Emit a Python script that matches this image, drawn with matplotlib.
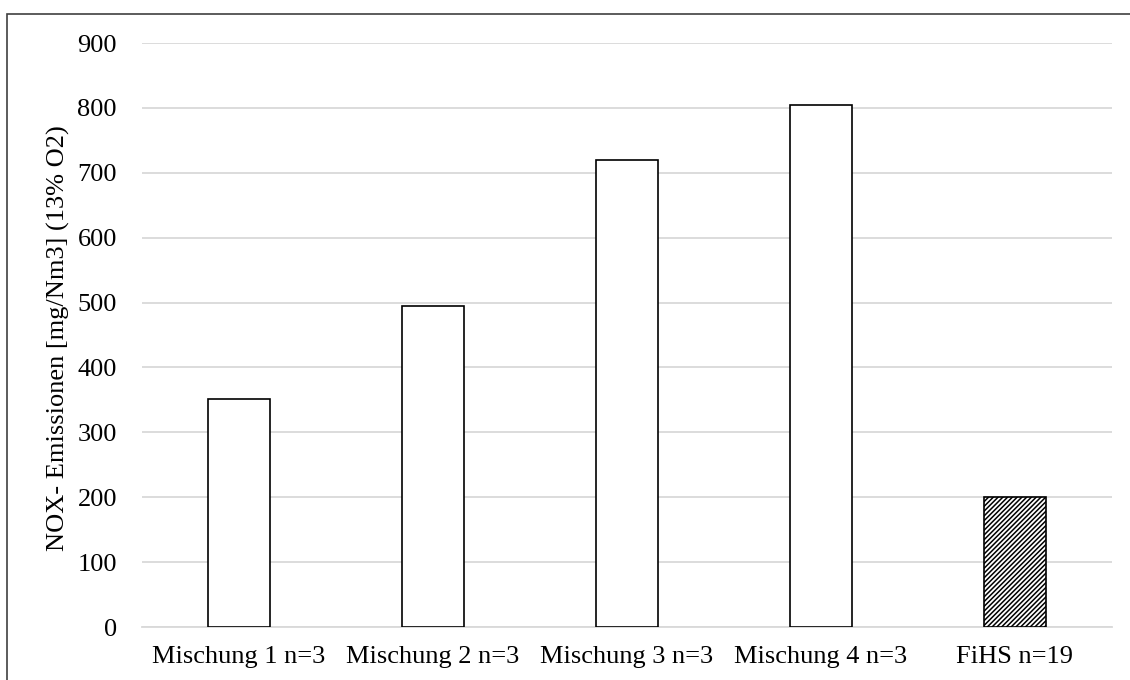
import matplotlib
matplotlib.use("Agg")
import matplotlib.pyplot as plt
from matplotlib.patches import Rectangle

categories = ["Mischung 1 n=3", "Mischung 2 n=3", "Mischung 3 n=3", "Mischung 4 n=3", "FiHS n=19"]
values = [352, 494, 719, 805, 201]
hatched = [False, False, False, False, True]
y_ticks = [0, 100, 200, 300, 400, 500, 600, 700, 800, 900]
y_label = "NOX- Emissionen [mg/Nm3] (13% O2)"

plt.rcParams["font.family"] = ["Liberation Serif", "DejaVu Serif"]
plt.rcParams["hatch.linewidth"] = 1.1

W, H = 1130, 680
fig = plt.figure(figsize=(W / 100, H / 100), dpi=100)
fig.patch.set_facecolor("white")

left, right = 142 / W, 1112 / W
bottom, top = 1 - 627 / H, 1 - 43 / H
ax = fig.add_axes([left, bottom, right - left, top - bottom])

x = list(range(len(categories)))
for xi, v, h in zip(x, values, hatched):
    ax.bar(xi, v, width=0.315, facecolor="white", edgecolor="black",
           linewidth=1.2, hatch="///////" if h else None, zorder=3)

ax.set_xlim(-0.5, len(categories) - 0.5)
ax.set_ylim(0, 900)
ax.set_yticks(y_ticks)
ax.set_xticks(x)
ax.set_xticklabels(categories, fontsize=19)
ax.tick_params(axis="y", labelsize=19, length=0, pad=18)
ax.tick_params(axis="x", length=0, pad=13.5)
ax.yaxis.grid(True, color="#d9d9d9", linewidth=1.3, zorder=0)
ax.set_axisbelow(True)
for s in ["top", "right", "left"]:
    ax.spines[s].set_visible(False)
ax.spines["bottom"].set_color("#d9d9d9")
ax.spines["bottom"].set_linewidth(1.3)

ax.set_ylabel(y_label, fontsize=19)
ax.yaxis.set_label_coords(-0.074, 0.495)

# outer frame around the chart area
fig.add_artist(Rectangle((7 / W, 0 - 0.05), 1.2, 1 - 14 / H + 0.05,
                         transform=fig.transFigure, fill=False,
                         edgecolor="#404040", linewidth=1.2, clip_on=False))

fig.savefig("out.png", dpi=100, facecolor="white")
